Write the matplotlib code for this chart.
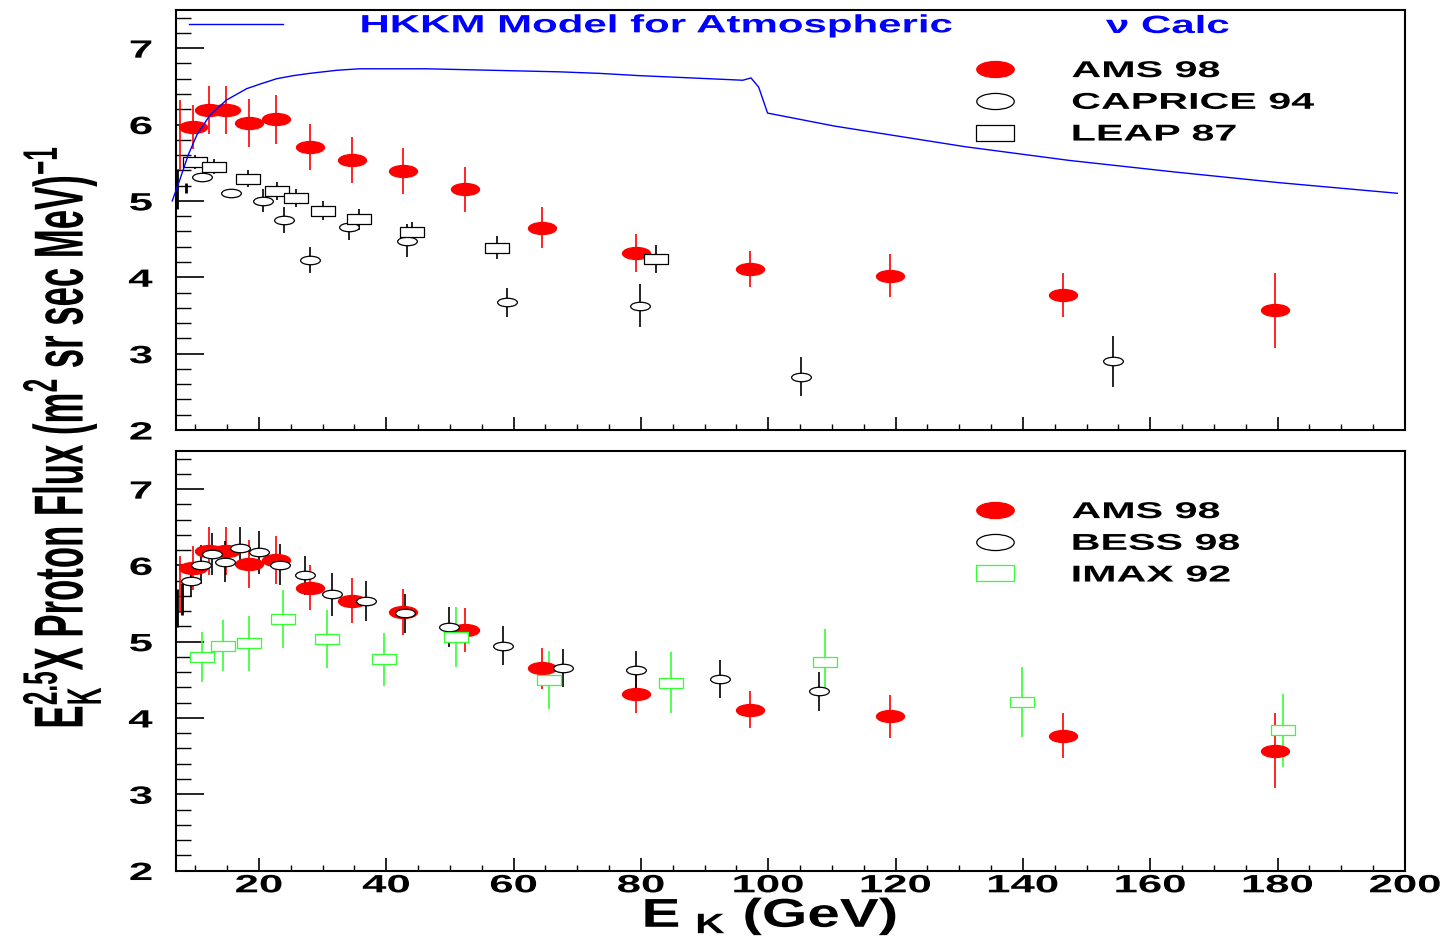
import numpy as np
import matplotlib.pyplot as plt
from matplotlib.path import Path
from matplotlib.patheffects import AbstractPathEffect
from matplotlib.transforms import Affine2D

plt.rcParams['font.family'] = ['Liberation Sans', 'DejaVu Sans']
plt.rcParams['font.weight'] = 'bold'
plt.rcParams['mathtext.default'] = 'regular'

# AMS 98 (same points in both panels)
ams_e = [9.6, 12.1, 14.9, 18.4, 22.7, 28.1, 34.6, 42.6, 52.4, 64.4, 79.2, 97.2, 119.2, 146.3, 179.6]
ams_f = [5.97, 6.19, 6.19, 6.02, 6.07, 5.71, 5.54, 5.39, 5.15, 4.65, 4.32, 4.11, 4.02, 3.77, 3.57]
ams_err = [0.29, 0.31, 0.31, 0.31, 0.32, 0.30, 0.30, 0.30, 0.29, 0.27, 0.25, 0.24, 0.28, 0.29, 0.49]

# CAPRICE 94
cap_e = [11.1, 15.7, 20.7, 23.9, 28.1, 34.1, 43.2, 58.9, 79.9, 105.2, 154.1]
cap_f = [5.31, 5.10, 5.00, 4.75, 4.23, 4.66, 4.48, 3.67, 3.63, 2.70, 2.90]
cap_err = [0.06, 0.05, 0.15, 0.17, 0.17, 0.17, 0.22, 0.19, 0.28, 0.26, 0.33]

# LEAP 87
leap_e = [10.0, 12.9, 18.3, 22.8, 25.9, 30.1, 35.8, 44.1, 57.4, 82.4]
leap_f = [5.51, 5.45, 5.29, 5.13, 5.04, 4.87, 4.76, 4.59, 4.39, 4.24]
leap_err = [0.095, 0.10, 0.11, 0.12, 0.12, 0.125, 0.14, 0.14, 0.155, 0.18]

# BESS 98
bess_e = [9.3, 10.85, 12.7, 14.7, 17.1, 20.0, 23.3, 27.2, 31.5, 36.9, 42.9, 49.9, 58.3, 67.8, 79.2, 92.5, 107.9]
bess_f = [5.80, 6.01, 6.15, 6.05, 6.23, 6.17, 6.01, 5.87, 5.62, 5.53, 5.37, 5.19, 4.95, 4.66, 4.63, 4.51, 4.35]
bess_err = [0.22, 0.26, 0.28, 0.27, 0.27, 0.28, 0.27, 0.26, 0.28, 0.26, 0.25, 0.26, 0.255, 0.25, 0.245, 0.245, 0.255]

# IMAX 92
imax_e = [11.1, 14.4, 18.4, 23.8, 30.7, 39.6, 50.9, 65.6, 84.7, 108.9, 139.9, 180.8]
imax_f = [4.80, 4.95, 4.98, 5.30, 5.03, 4.77, 5.06, 4.50, 4.46, 4.73, 4.21, 3.84]
imax_err = [0.33, 0.34, 0.36, 0.38, 0.38, 0.35, 0.39, 0.38, 0.40, 0.43, 0.46, 0.48]

# lowest-energy bars whose markers are hidden at the frame edge
edge_top_e = [7.15, 7.6, 8.55]
edge_top_f = [5.16, 5.86, 5.17]
edge_top_err = [0.26, 0.46, 0.07]
edge_top_col = ['black', 'red', 'black']
edge_bot_e = [7.15, 7.6, 7.9]
edge_bot_f = [5.44, 5.75, 5.56]
edge_bot_err = [0.25, 0.38, 0.21]
edge_bot_col = ['black', 'red', 'black']

# HKKM model curve
model_e = [6.4, 7.6, 8.9, 10.3, 12.3, 14.9, 18.1, 20.2, 22.8, 25.4, 28.0, 32.2, 35.8, 41.1, 46.3,
           51.5, 56.8, 62.0, 67.2, 73.5, 79.8, 88.0, 96.0, 97.3, 98.5, 99.9, 110.4, 130.9, 147.3,
           163.7, 180.1, 198.8]
model_f = [5.00, 5.28, 5.60, 5.87, 6.12, 6.32, 6.47, 6.53, 6.60, 6.64, 6.67, 6.71, 6.73, 6.73, 6.73,
           6.72, 6.71, 6.70, 6.69, 6.67, 6.64, 6.61, 6.58, 6.61, 6.49, 6.15, 5.98, 5.71, 5.53,
           5.38, 5.24, 5.10]

y_ticks = [2, 3, 4, 5, 6, 7]
x_ticks = [20, 40, 60, 80, 100, 120, 140, 160, 180, 200]

RED = '#ff0000'
GREEN = '#33ff33'
BLUE = '#0000ff'


class Stretch(AbstractPathEffect):
    # the original figure was stretched sideways, so widen the glyphs the same way
    def __init__(self, sx, anchor='center'):
        super().__init__()
        self.sx = sx
        self.anchor = anchor

    def draw_path(self, renderer, gc, tpath, affine, rgbFace=None):
        ext = affine.transform_path(tpath).get_extents()
        x0 = {'left': ext.x0, 'center': 0.5 * (ext.x0 + ext.x1), 'right': ext.x1}[self.anchor]
        aff = affine + Affine2D().translate(-x0, 0).scale(self.sx, 1).translate(x0, 0)
        renderer.draw_path(gc, tpath, aff, rgbFace)


def ellipse(ratio=0.43):
    c = Path.unit_circle()
    return Path(c.vertices * [1.0, ratio], c.codes)


def box(ratio=0.44):
    return Path([(-1, -ratio), (1, -ratio), (1, ratio), (-1, ratio), (-1, -ratio)], closed=True)


ELL = ellipse()
BOX = box()

fig = plt.figure(figsize=(14.42, 9.41), dpi=100)
ax1 = fig.add_axes([0.1221, 0.5430, 0.8522, 0.4464])
ax2 = fig.add_axes([0.1221, 0.0749, 0.8522, 0.4458])


def draw_set(ax, e, f, err, color, marker, ms, face):
    ax.errorbar(e, f, yerr=err, fmt='none', ecolor=color, elinewidth=1.2, capsize=0, zorder=2)
    ax.plot(e, f, ls='none', marker=marker, ms=ms, mfc=face, mec=color, mew=0.9, zorder=3)


def style_axis(ax, show_x):
    ax.set_xlim(7, 200)
    ax.set_ylim(2, 7.5)
    ax.set_yticks(y_ticks)
    ax.set_yticks(np.arange(2, 7.5, 0.2), minor=True)
    ax.set_xticks(x_ticks)
    ax.set_xticks(np.arange(10, 201, 5), minor=True)
    ax.tick_params(axis='y', which='major', direction='in', length=20, width=1.2, pad=17, labelsize=18)
    ax.tick_params(axis='y', which='minor', direction='in', length=11, width=1.0)
    ax.tick_params(axis='x', which='major', direction='in', length=9.5, width=1.2, pad=2, labelsize=18,
                   labelbottom=show_x)
    ax.tick_params(axis='x', which='minor', direction='in', length=4.5, width=1.0)
    for s in ax.spines.values():
        s.set_linewidth(1.5)
    for lab in ax.get_yticklabels():
        lab.set_path_effects([Stretch(1.75, 'right')])
    if show_x:
        for lab in ax.get_xticklabels():
            lab.set_path_effects([Stretch(1.75, 'center')])


# top panel
for e, f, er, c in zip(edge_top_e, edge_top_f, edge_top_err, edge_top_col):
    ax1.errorbar([e], [f], yerr=[er], fmt='none', ecolor=c, elinewidth=1.2 if c == 'red' else 2.0, zorder=2)
draw_set(ax1, ams_e, ams_f, ams_err, RED, ELL, 20.2, RED)
draw_set(ax1, cap_e, cap_f, cap_err, 'black', ELL, 14.2, 'white')
draw_set(ax1, leap_e, leap_f, leap_err, 'black', BOX, 17.0, 'white')
model_line, = ax1.plot(model_e, model_f, color=BLUE, lw=1.0, zorder=4, clip_on=False)

# bottom panel
for e, f, er, c in zip(edge_bot_e, edge_bot_f, edge_bot_err, edge_bot_col):
    ax2.errorbar([e], [f], yerr=[er], fmt='none', ecolor=c, elinewidth=1.2 if c == 'red' else 2.0, zorder=2)
draw_set(ax2, ams_e, ams_f, ams_err, RED, ELL, 20.2, RED)
draw_set(ax2, bess_e, bess_f, bess_err, 'black', ELL, 14.2, 'white')
draw_set(ax2, imax_e, imax_f, imax_err, GREEN, BOX, 17.0, 'white')

style_axis(ax1, False)
style_axis(ax2, True)

# model "legend" with the title text
leg0 = ax1.legend([model_line], ['HKKM Model for Atmospheric'], loc='upper left',
                  bbox_to_anchor=(0.0106, 0.992), frameon=False, borderpad=0, borderaxespad=0,
                  fontsize=18, handlelength=3.76, handletextpad=3.1, labelcolor=BLUE)
leg0.get_lines()[0].set_linewidth(1.0)
for t in leg0.get_texts():
    t.set_path_effects([Stretch(1.68, 'left')])
ax1.add_artist(leg0)
nu = ax1.text(0.7567, 0.9452, 'ν Calc', transform=ax1.transAxes, color=BLUE, fontsize=18,
              ha='left', va='baseline')
nu.set_path_effects([Stretch(1.68, 'left')])


def data_legend(ax, labels, colors, markers, faces):
    handles = [plt.Line2D([], [], ls='none', marker=m, ms=27, mfc=fc, mec=c, mew=0.9)
               for c, m, fc in zip(colors, markers, faces)]
    leg = ax.legend(handles, labels, loc='upper left', bbox_to_anchor=(0.6477, 0.883), frameon=False,
                    borderpad=0, borderaxespad=0, fontsize=16.5, handlelength=2.0,
                    handletextpad=2.36, labelspacing=0.38)
    for t in leg.get_texts():
        t.set_path_effects([Stretch(1.8, 'left')])
    return leg


data_legend(ax1, ['AMS 98', 'CAPRICE 94', 'LEAP 87'], [RED, 'black', 'black'], [ELL, ELL, BOX],
            [RED, 'white', 'white'])
data_legend(ax2, ['AMS 98', 'BESS 98', 'IMAX 92'], [RED, 'black', GREEN], [ELL, ELL, BOX],
            [RED, 'white', 'white'])

ylab = fig.text(62 / 1442, 1 - 437 / 941, r'E$_{K}^{2.5}$X Proton Flux (m$^{2}$ sr sec MeV)$^{-1}$',
                rotation=90, ha='center', va='center', fontsize=25)
ylab.set_path_effects([Stretch(2.0, 'center')])
xlab = fig.text(770 / 1442, 1 - 916 / 941, r'E$_{\ K}$ (GeV)', ha='center', va='center', fontsize=29)
xlab.set_path_effects([Stretch(1.45, 'center')])

fig.savefig('out.png', dpi=100)
